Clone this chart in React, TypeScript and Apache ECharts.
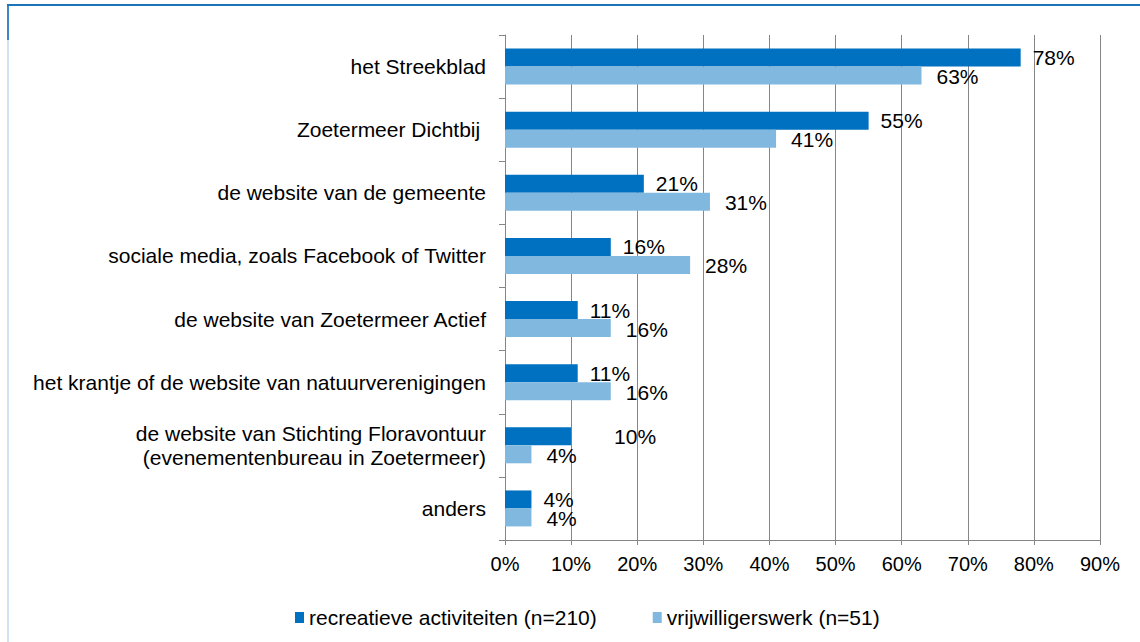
import React, { useEffect, useRef } from "react";
import * as echarts from "echarts";

const categories = [
  "het Streekblad",
  "Zoetermeer Dichtbij ",
  "de website van de gemeente",
  "sociale media, zoals Facebook of Twitter",
  "de website van Zoetermeer Actief",
  "het krantje of de website van natuurverenigingen",
  "de website van Stichting Floravontuur\n(evenementenbureau in Zoetermeer)",
  "anders",
];
const recreatief = [78, 55, 21, 16, 11, 11, 10, 4];
const vrijwilligers = [63, 41, 31, 28, 16, 16, 4, 4];
const seriesNames = ["recreatieve activiteiten (n=210)", "vrijwilligerswerk (n=51)"];
const xTicks = [0, 10, 20, 30, 40, 50, 60, 70, 80, 90];

const DARK = "#0070c0";
const LIGHT = "#80b8df";
const GRID = "#868686";
const FONT = "Liberation Sans";

export default function App() {
  const ref = useRef<HTMLDivElement>(null);
  useEffect(() => {
    document.body.style.margin = "0";
    const chart = echarts.init(ref.current!, null, { renderer: "svg" });
    const labelBase = {
      show: true,
      position: "right",
      fontSize: 21,
      fontFamily: FONT,
      color: "#000",
      formatter: "{c}%",
    };
    chart.setOption({
      animation: false,
      backgroundColor: "#fff",
      textStyle: { fontFamily: FONT },
      graphic: [
        {
          type: "line",
          shape: { x1: 8, y1: 5, x2: 8, y2: 642 },
          style: { lineWidth: 2, stroke: "#d3e2f3" },
        },
        {
          type: "line",
          shape: { x1: 8, y1: 5, x2: 8, y2: 40 },
          style: { lineWidth: 2, stroke: "#3c88c8" },
        },
        {
          type: "line",
          shape: { x1: 7, y1: 5, x2: 1140, y2: 5 },
          style: { lineWidth: 2, stroke: "#1a75bc" },
        },
      ],
      grid: { left: 505, right: 40, top: 35, bottom: 102, containLabel: false },
      legend: {
        left: 290,
        top: 602,
        itemWidth: 9,
        itemHeight: 11,
        itemGap: 56,
        icon: "rect",
        textStyle: { fontSize: 21, fontFamily: FONT, color: "#000" },
        data: seriesNames,
      },
      xAxis: {
        type: "value",
        min: xTicks[0],
        max: xTicks[xTicks.length - 1],
        interval: xTicks[1] - xTicks[0],
        axisLine: { show: true, lineStyle: { color: GRID, width: 1 } },
        axisTick: { show: true, length: 5, lineStyle: { color: GRID } },
        splitLine: { show: true, lineStyle: { color: GRID, width: 1 } },
        axisLabel: {
          formatter: "{value}%",
          fontSize: 20,
          fontFamily: FONT,
          color: "#000",
          margin: 14,
        },
      },
      yAxis: {
        type: "category",
        inverse: true,
        data: categories,
        axisLine: { show: true, lineStyle: { color: GRID, width: 1 } },
        axisTick: { show: true, length: 6, lineStyle: { color: GRID } },
        axisLabel: {
          fontSize: 21,
          fontFamily: FONT,
          color: "#000",
          margin: 19,
          lineHeight: 24,
        },
      },
      series: [
        {
          name: seriesNames[0],
          type: "bar",
          barGap: "0%",
          barCategoryGap: "43%",
          itemStyle: { color: DARK },
          label: { ...labelBase, distance: 12, offset: [0, 0] },
          data: recreatief.map((v, i) =>
            i === 6 ? { value: v, label: { offset: [31, 0] } } : v
          ),
        },
        {
          name: seriesNames[1],
          type: "bar",
          barGap: "0%",
          barCategoryGap: "43%",
          itemStyle: { color: LIGHT },
          label: { ...labelBase, distance: 15, offset: [0, 1] },
          data: vrijwilligers,
        },
      ],
    });
    return () => chart.dispose();
  }, []);
  return <div ref={ref} style={{ width: 1140, height: 642 }} />;
}
